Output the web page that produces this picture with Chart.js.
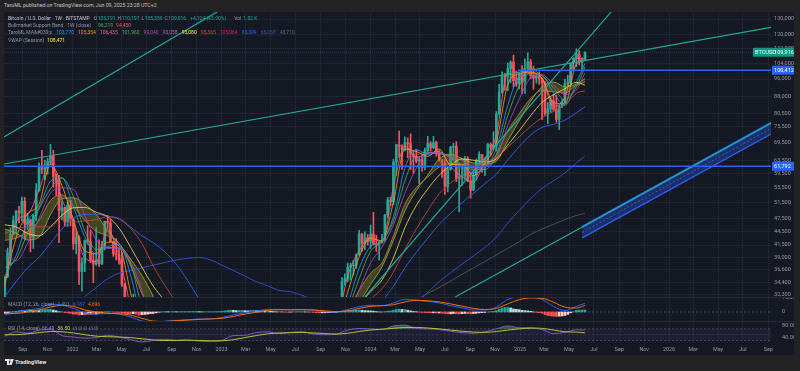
<!DOCTYPE html>
<html>
<head>
<meta charset="utf-8">
<title>Bitcoin / U.S. Dollar 1W</title>
<script src="https://cdn.jsdelivr.net/npm/chart.js"></script>
<style>
  body { margin: 0; width: 800px; height: 371px; background: #232323; position: relative; overflow: hidden; font-family: Roboto, 'Noto Sans', sans-serif; }
  #panel { position: absolute; left: 4px; top: 12px; width: 790px; height: 343px; background: #151924; }
  #panel canvas { position: absolute; left: 0; }
  .txt { position: absolute; white-space: nowrap; line-height: 1; }
  .row { position: absolute; left: 8px; white-space: nowrap; line-height: 1; font-size: 5px; }
  .sep { position: absolute; left: 0; width: 790px; height: 1px; background: #262a35; }
</style>
</head>
<body>
<div class="txt" style="left:4px;top:3px;font-size:5.2px;color:#c3c6ce">TaroML published on TradingView.com, Jun 09, 2025 23:28 UTC+2</div>
<div id="panel">
  <canvas id="main" width="790" height="285" style="top:0"></canvas>
  <canvas id="macd" width="790" height="24" style="top:285px"></canvas>
  <canvas id="rsi" width="790" height="34" style="top:309px"></canvas>
  <div class="sep" style="top:285px"></div>
  <div class="sep" style="top:309px"></div>
</div>
<div id="legend"></div>
<svg style="position:absolute;left:5px;top:359px" width="9" height="6" viewBox="0 0 9 6"><path fill="#e6e6e6" d="M0 0h4v6H2V2H0z M6.2 0h2.6L6.6 6H4z"/><circle cx="5" cy="1" r="0.9" fill="#e6e6e6"/></svg>
<div class="txt" style="left:15px;top:359.5px;font-size:5.6px;color:#e6e6e6;font-weight:bold">TradingView</div>

<script>
// weekly candles, thousands of USD, first week starts 2021-07-19
const opens = [
  31.8,35.4,39.9,43.8,47.0,49.3,48.8,51.8,46.1,47.2, 43.2,48.2,54.7,61.5,60.9,61.3,63.3,65.0,58.7,57.3,
  49.4,50.1,46.7,50.8,47.3,41.8,43.1,36.3,37.9,42.4, 42.2,38.4,37.7,38.4,37.8,41.3,46.8,46.4,42.2,39.7,
  39.5,38.5,34.0,31.3,30.3,29.4,29.9,26.6,20.5,21.0, 19.3,20.8,20.8,22.6,23.3,23.2,24.3,21.5,20.0,19.8,
  21.8,19.4,18.8,19.4,19.4,19.2,19.6,20.6,21.0,16.3, 16.3,16.5,17.1,17.1,16.8,16.8,16.6,17.1,20.9,22.7,
  23.7,23.0,21.8,24.6,23.6,22.4,22.1,27.9,27.5,28.5, 28.3,30.3,27.6,29.2,28.7,26.9,26.8,28.1,27.1,25.9,
  26.3,30.5,30.6,30.3,30.3,30.0,29.3,29.0,29.4,26.1, 26.0,25.8,26.0,26.5,26.3,27.9,27.9,26.9,30.0,34.5,
  35.0,37.1,37.4,37.5,39.5,43.9,41.9,43.0,42.3,43.9, 41.7,41.6,42.0,42.6,48.3,52.1,51.7,63.1,68.9,68.4,
  67.2,69.6,69.4,65.7,64.9,63.4,63.9,61.5,66.9,69.3, 67.8,69.6,66.2,63.9,62.7,55.9,60.8,68.1,68.3,58.1,
  58.7,58.9,64.2,57.3,54.8,59.1,63.6,65.6,62.8,62.8, 69.0,68.0,68.8,80.4,89.8,97.8,97.3,101.2,104.5,95.2,
  93.7,98.3,94.5,101.3,104.7,97.7,96.5,97.5,96.3,94.2, 80.7,82.6,86.1,82.4,78.3,83.8,85.1,93.7,94.3,104.0,
  106.5,109.0,104.6,105.791
]
const highs = [
  35.4,40.9,45.3,48.1,49.4,50.5,52.9,52.8,48.8,47.3, 48.4,56.6,62.9,67.0,63.7,64.3,69.0,67.0,59.4,59.0,
  51.9,50.2,51.9,52.0,47.5,44.4,43.5,38.9,42.6,45.8, 44.7,39.8,45.4,42.6,42.3,46.8,48.2,47.2,42.4,42.9,
  40.8,40.0,34.2,31.4,30.6,32.4,31.7,26.8,22.0,21.5, 22.5,21.6,24.3,24.7,23.6,25.2,25.1,21.9,20.6,21.9,
  22.7,19.9,20.4,20.5,19.9,19.7,21.0,21.5,21.5,17.2, 16.8,17.4,17.4,18.4,17.0,16.9,17.2,21.4,23.4,23.9,
  24.2,23.4,25.2,25.1,23.9,22.6,28.4,28.9,29.2,28.9, 31.0,30.5,30.0,29.8,28.9,27.6,28.4,28.4,27.4,26.8,
  31.4,31.3,31.5,31.8,30.4,30.0,29.9,30.2,29.7,26.8, 28.1,26.4,26.9,27.5,28.0,28.6,27.9,30.4,35.2,35.9,
  37.9,37.9,38.4,39.7,44.7,44.0,44.4,43.8,45.9,49.0, 43.6,42.2,43.8,48.5,52.8,52.9,64.0,69.1,73.8,68.9,
  71.7,71.3,72.8,66.9,67.2,64.7,65.5,67.7,71.9,70.0, 71.9,70.2,66.9,64.0,63.9,61.3,68.3,69.4,70.0,62.7,
  61.8,65.0,64.9,59.8,60.6,64.1,66.5,65.6,64.4,69.4, 69.5,73.6,81.5,93.5,99.6,98.8,104.1,105.2,108.4,99.9,
  99.0,102.7,106.3,109.6,106.0,102.5,98.8,99.5,96.5,95.0, 85.3,87.5,88.8,88.5,84.0,86.5,95.8,97.9,104.1,107.0,
  111.9,110.7,106.8,110.107
]
const lows = [
  29.3,35.2,37.6,43.8,43.9,46.4,46.9,42.8,44.8,40.1, 40.8,46.9,54.4,59.5,57.8,59.4,62.3,55.6,53.3,42.0,
  47.1,45.6,45.6,45.7,40.6,39.7,34.0,32.9,36.3,41.7, 38.0,34.3,37.5,37.2,37.6,40.5,45.1,42.1,39.2,38.5,
  37.7,33.7,26.7,28.7,28.0,29.3,26.6,17.6,19.6,18.7, 19.0,18.9,20.7,20.7,22.4,22.6,20.8,19.8,19.5,18.6,
  19.3,18.2,18.5,19.1,18.2,18.9,19.2,20.1,15.6,16.2, 15.5,16.1,16.9,16.3,16.4,16.4,16.6,17.1,20.4,22.3,
  22.6,21.4,21.5,22.8,21.9,19.6,21.9,26.6,26.5,27.2, 28.2,27.1,26.9,27.7,25.8,26.4,25.9,26.6,25.4,24.8,
  26.2,29.5,29.7,29.9,29.5,28.9,28.6,28.7,25.4,25.8, 25.4,25.4,24.9,26.1,26.0,27.2,26.5,26.9,29.9,33.9,
  34.5,34.8,35.7,36.9,39.5,40.2,40.5,41.5,40.8,41.5, 40.2,38.5,41.9,42.3,47.7,50.6,50.9,59.0,64.6,60.8,
  66.8,64.5,60.8,59.6,62.8,56.5,60.2,60.7,66.3,66.7, 67.6,65.0,63.4,58.4,53.6,54.3,60.6,63.6,57.2,49.1,
  56.1,57.8,57.2,52.6,54.6,57.6,62.7,59.9,58.9,62.4, 65.1,67.5,66.8,80.2,89.4,90.8,90.5,94.2,92.2,92.5,
  91.3,89.3,89.3,99.5,96.2,91.2,94.1,93.4,78.2,80.0, 76.6,81.2,81.6,77.2,74.4,83.1,85.1,92.9,93.4,100.7,
  102.1,103.1,100.4,105.389
]
const closes = [
  35.4,39.9,43.8,47.0,49.3,48.8,51.8,46.1,47.2,43.2, 48.2,54.7,61.5,60.9,61.3,63.3,65.0,58.7,57.3,49.4,
  50.1,46.7,50.8,47.3,41.8,43.1,36.3,37.9,42.4,42.2, 38.4,37.7,38.4,37.8,41.3,46.8,46.4,42.2,39.7,39.5,
  38.5,34.0,31.3,30.3,29.4,29.9,26.6,20.5,21.0,19.3, 20.8,20.8,22.6,23.3,23.2,24.3,21.5,20.0,19.8,21.8,
  19.4,18.8,19.4,19.4,19.2,19.6,20.6,21.0,16.3,16.3, 16.5,17.1,17.1,16.8,16.8,16.6,17.1,20.9,22.7,23.7,
  23.0,21.8,24.6,23.6,22.4,22.1,27.9,27.5,28.5,28.3, 30.3,27.6,29.2,28.7,26.9,26.8,28.1,27.1,25.9,26.3,
  30.5,30.6,30.3,30.3,30.0,29.3,29.0,29.4,26.1,26.0, 25.8,26.0,26.5,26.3,27.9,27.9,26.9,30.0,34.5,35.0,
  37.1,37.4,37.5,39.5,43.9,41.9,43.0,42.3,43.9,41.7, 41.6,42.0,42.6,48.3,52.1,51.7,63.1,68.9,68.4,67.2,
  69.6,69.4,65.7,64.9,63.4,63.9,61.5,66.9,69.3,67.8, 69.6,66.2,63.9,62.7,55.9,60.8,68.1,68.3,58.1,58.7,
  58.9,64.2,57.3,54.8,59.1,63.6,65.6,62.8,62.8,69.0, 68.0,68.8,80.4,89.8,97.8,97.3,101.2,104.5,95.2,93.7,
  98.3,94.5,101.3,104.7,97.7,96.5,97.5,96.3,94.2,80.7, 82.6,86.1,82.4,78.3,83.8,85.1,93.7,94.3,104.0,106.5,
  109.0,104.6,105.8,109.916
]

// moving averages, sampled every 4 weeks (weeks 0,4,...,200) plus the last week 203
const ma3 = [33.6,46.7,48.4,54.8,63.2,52.3,46.6,38.9,38.2,44.8,39.2,30.3,22.7,21.4,23.0,20.3,19.3,19.3,16.9,16.8,23.1,23.5,28.0,29.0,27.3,27.6,30.2,28.2,26.1,27.6,35.5,40.3,43.1,42.1,55.6,68.4,64.7,65.9,66.6,61.6,58.6,57.1,63.7,72.4,98.8,95.7,101.2,96.0,83.7,87.5,106.5,106.4]
const ma5 = [34.2,43.1,48.6,51.0,62.4,56.1,47.3,40.3,39.8,42.1,41.3,32.7,25.5,20.9,23.0,20.5,19.2,19.3,16.7,16.9,21.5,23.1,25.7,28.8,27.9,27.6,30.3,28.8,26.1,27.1,32.7,39.1,43.0,42.4,51.6,67.4,66.6,65.0,67.4,62.3,62.4,58.9,62.8,69.8,93.3,98.6,99.3,96.4,85.2,84.7,103.5,105.4]
const ma8 = [35.5,39.4,46.8,50.2,57.3,58.3,50.3,43.3,39.6,41.2,41.6,35.7,27.9,22.7,22.0,21.7,19.8,19.3,18.1,16.8,19.7,22.9,24.8,27.7,28.2,27.5,28.9,29.4,27.3,26.7,30.7,36.9,41.2,42.4,47.9,61.2,67.2,65.6,66.2,64.4,61.5,59.9,61.3,67.6,84.0,97.2,98.7,97.8,89.5,84.1,94.3,103.8]
const ma10 = [37.0,38.6,44.1,49.8,55.1,58.2,53.1,44.6,40.6,41.0,40.9,37.8,30.1,24.1,21.8,21.7,20.4,19.6,18.5,17.0,19.2,21.7,24.5,26.7,28.2,27.7,28.6,29.2,27.9,26.9,29.8,35.0,40.2,42.3,46.9,57.4,65.2,66.2,65.8,65.1,62.2,60.8,60.8,65.5,79.8,92.7,98.8,97.5,91.9,86.3,92.3,102.0]
const ma13 = [40.5,38.3,41.9,47.5,53.9,55.4,55.0,48.2,42.6,40.8,40.9,38.1,33.0,26.5,23.3,21.4,21.0,19.8,18.9,17.3,18.5,20.6,23.5,25.9,27.2,28.0,28.5,28.9,28.5,27.5,28.9,33.1,37.9,41.1,46.0,53.9,61.2,66.3,66.3,64.6,63.7,60.8,61.7,64.3,75.9,86.7,96.6,98.1,93.3,88.8,90.8,99.0]
const sma20 = [45.0,44.1,42.6,43.2,48.4,52.4,52.7,51.0,48.5,44.6,41.8,38.7,35.6,32.0,28.0,24.0,21.6,20.6,19.8,18.5,19.0,19.7,21.2,23.6,25.7,26.7,28.1,28.5,28.0,27.9,29.3,31.1,34.0,37.2,42.5,49.3,54.6,59.1,64.1,65.7,64.2,62.8,62.5,63.4,70.3,77.7,85.8,92.3,94.6,92.3,93.5,96.2]
const ema21 = [42.5,43.0,44.5,47.0,52.0,53.5,50.5,47.0,44.5,43.5,41.8,37.5,32.5,29.0,27.0,24.5,22.5,21.0,19.5,18.8,19.8,20.8,22.5,24.3,25.6,26.5,27.8,28.0,27.6,27.7,29.8,33.0,36.0,38.0,43.5,51.0,55.5,58.5,61.5,62.5,62.0,61.3,62.0,65.5,74.0,80.5,87.0,90.5,90.0,89.5,93.0,94.5]
const ma26 = [46.0,45.5,44.0,43.5,45.5,48.2,50.1,50.2,49.0,47.9,45.2,41.1,37.1,33.7,31.2,27.9,24.5,22.0,20.3,19.4,19.5,19.7,20.7,22.2,23.7,25.3,26.9,27.8,28.0,27.9,28.8,30.7,32.8,34.8,38.9,45.3,50.7,55.1,59.1,62.1,64.1,63.7,63.2,64.1,68.8,73.9,79.8,85.3,88.7,91.4,94.4,93.1]
const ma35 = [44.0,45.0,45.5,45.5,45.5,47.7,46.6,46.9,47.2,47.9,47.3,45.2,41.8,37.3,33.9,31.1,28.8,26.4,23.5,21.1,20.3,20.2,20.8,21.5,22.4,23.3,24.7,26.0,26.9,27.4,28.6,30.0,31.6,33.3,36.2,40.6,45.0,49.4,53.8,56.8,59.1,61.0,63.1,64.7,68.0,71.7,75.6,79.0,81.5,84.3,89.3,90.5]
const ma50 = [32.0,34.5,37.0,39.0,41.9,45.0,47.5,48.5,48.5,48.0,47.5,45.5,43.5,42.0,40.1,37.7,34.7,31.6,28.9,26.8,25.4,24.0,22.8,22.2,22.2,22.6,23.2,23.8,24.3,24.9,26.2,28.0,29.9,31.4,33.7,37.0,40.0,43.0,46.1,48.7,51.4,53.9,56.6,59.4,63.8,68.2,72.4,75.2,76.4,78.0,81.0,83.4]
const ma100 = [22.0,24.5,26.0,27.0,28.0,29.0,30.5,32.0,33.5,35.0,36.0,36.5,37.0,37.5,38.0,38.5,38.8,39.0,38.5,37.5,36.5,35.5,34.5,33.8,33.0,32.8,32.2,31.4,30.3,28.9,28.1,27.9,28.0,28.1,28.5,29.7,31.0,32.7,34.5,36.1,37.7,39.3,41.0,43.2,46.4,49.4,52.5,55.3,57.4,59.8,62.8,65.1]
const ma200 = [11.0,12.0,13.0,14.0,15.0,16.0,17.0,17.8,18.5,19.3,20.0,20.8,21.5,22.0,22.4,22.7,23.0,23.3,23.6,23.8,24.0,24.5,25.0,25.5,26.0,26.3,26.6,26.9,27.2,27.5,27.8,28.2,28.6,29.0,29.6,30.5,31.5,32.5,33.5,34.6,35.8,37.0,38.2,39.5,40.8,42.2,43.8,45.0,46.1,47.2,48.2,48.7]

// MACD (12, 26) in thousands: weekly histogram, lines sampled like the averages
const macdHist = [
  -1.0,-0.6,-0.1,0.3, 0.5,0.9,1.2,1.0, 1.5,1.1,0.8,1.2, 1.0,1.6,1.7,1.8, 2.0,1.4,0.9,0.2,
  0.2,-0.4,-0.6,-1.0, -1.5,-1.6,-2.1,-1.9, -2.0,-1.5,-1.5,-1.6, -1.5,-1.0,-0.5,0.1, 0.0,0.1,-0.1,-0.2,
  -0.3,-0.7,-1.1,-1.2, -1.3,-1.2,-1.5,-2.2, -2.0,-1.8,-1.5,-1.2, -1.0,-0.6,-0.2,0.2, 0.3,0.2,0.2,0.3,
  0.2,0.2,0.3,0.3, 0.3,0.3,0.4,0.4, 0.3,0.1,0.1,0.2, 0.2,0.2,0.3,0.3, 0.5,0.8,1.1,1.3,
  1.2,1.0,1.1,1.1, 1.0,0.8,1.1,1.1, 1.0,0.9,0.9,0.6, 0.6,0.5,0.3,0.2, 0.2,0.1,-0.1,-0.2,
  -0.1,0.1,0.2,0.2, 0.2,0.1,0.0,-0.1, -0.3,-0.5,-0.6,-0.6, -0.6,-0.5,-0.4,-0.3, -0.3,0.0,0.5,0.8,
  1.0,1.1,1.1,1.2, 1.3,1.2,1.0,0.9, 0.8,0.6,0.3,0.1, 0.0,0.3,0.6,0.7, 1.3,1.8,1.9,1.8,
  1.8,1.3,0.8,0.4, 0.2,-0.1,-0.3,-0.4, -0.5,-0.6,-0.6,-0.7, -0.7,-0.9,-1.2,-1.3, -1.3,-1.1,-1.3,-1.4,
  -1.2,-1.0,-1.2,-1.3, -1.1,-0.9,-0.6,-0.5, -0.3,0.0,0.3,0.5, 1.0,1.9,2.8,3.2, 3.2,2.9,2.2,1.9,
  1.7,1.2,1.0,0.8, 0.5,0.1,-0.2,-0.5, -0.8,-1.8,-2.5,-2.8, -3.0,-3.2,-3.0,-2.8, -2.5,-1.7,-0.6,0.2,
  1.2,1.3,1.4,1.491
]
const macdLine = [-2.0,-0.5,1.5,2.5,5.5,5.0,2.5,-0.5,-1.5,-1.0,-1.5,-3.5,-6.5,-7.5,-6.5,-6.0,-5.5,-5.0,-4.8,-4.0,-2.0,-0.5,0.8,1.8,1.8,1.5,1.8,1.2,0.2,0.0,1.8,3.8,4.8,4.5,6.5,9.0,8.5,7.5,6.5,4.5,3.0,1.5,1.5,3.5,9.0,10.5,10.5,9.0,4.0,1.0,4.0,6.187]
const signalLine = [-1.0,-1.0,0.0,1.5,3.5,4.8,4.0,1.5,0.0,-1.0,-1.2,-2.2,-4.5,-6.5,-6.8,-6.2,-5.8,-5.3,-5.0,-4.5,-3.2,-1.5,-0.2,1.2,1.6,1.6,1.6,1.5,0.8,0.3,0.8,2.5,4.0,4.5,5.2,7.2,8.3,8.0,7.2,5.8,4.2,2.6,1.8,2.5,5.8,8.8,10.0,9.8,7.0,3.5,2.8,4.696]

// RSI (14) and its moving average, same sampling
const rsi = [45,60,55,66,68,47,42,38,40,48,42,33,25,30,34,31,32,28,27,30,47,48,57,60,54,58,60,52,50,52,66,71,70,68,80,83,72,70,68,62,57,55,60,70,80,74,73,68,54,58,67,66.4]
const rsiMa = [50,50,53,57,61,60,56,50,45,43,42,40,36,32,30,30,31,30,29,29,33,40,47,53,56,57,58,56,54,52,55,61,66,69,72,75,75,73,70,66,62,59,58,61,66,70,73,72,66,60,59,56.5]

// drawings
const trendDates = [['2021-07-17', '2026-09-12'], ['2021-07-17', '2022-12-21'], ['2023-12-18', '2025-08-12'], ['2024-07-26', '2026-09-08']]
const trendPrices = [[62.5, 124.85], [71.6, 134.7], [31.93, 134.7], [31.93, 76.88]]
const channelDates = ['2025-06-02', '2026-09-08']
const channelTop = [45.47, 76.88]
const channelMid = [44.23, 74.78]
const channelBottom = [43.02, 72.73]
const levels = [100.412, 61.792]
const levelStarts = ['2024-12-27', '2021-07-17']
const lastPrice = 109.916

const priceTicks = [32.3, 34.4, 36.6, 39.0, 41.5, 44.5, 47.5, 51.5, 55.5, 59.5, 63.5, 69.5, 75.5, 80.5, 88, 96, 104, 112, 120, 130]
const tickDates = ['2021-09-01', '2021-11-01', '2022-01-01', '2022-03-01', '2022-05-01', '2022-07-01', '2022-09-01', '2022-11-01',
  '2023-01-01', '2023-03-01', '2023-05-01', '2023-07-01', '2023-09-01', '2023-11-01', '2024-01-01', '2024-03-01', '2024-05-01',
  '2024-07-01', '2024-09-01', '2024-11-01', '2025-01-01', '2025-03-01', '2025-05-01', '2025-07-01', '2025-09-01', '2025-11-01',
  '2026-01-01', '2026-03-01', '2026-05-01', '2026-07-01', '2026-09-01']
const tickLabels = ['Sep', 'Nov', '2022', 'Mar', 'May', 'Jul', 'Sep', 'Nov', '2023', 'Mar', 'May', 'Jul', 'Sep', 'Nov', '2024', 'Mar', 'May',
  'Jul', 'Sep', 'Nov', '2025', 'Mar', 'May', 'Jul', 'Sep', 'Nov', '2026', 'Mar', 'May', 'Jul', 'Sep']

const GRAY = '#9598a1'
const GREEN = '#22ab94'
const RED = '#f7525f'
// legend rows: top, then [text, colour, gap before]
const legendRows = [
  [15.5, [['Bitcoin / U.S. Dollar · 1W · BITSTAMP', '#c3c6ce', 0], ['O', GRAY, 4], ['105,791', GREEN, 0.5], ['H', GRAY, 2], ['110,107', GREEN, 0.5],
    ['L', GRAY, 2], ['105,389', GREEN, 0.5], ['C', GRAY, 2], ['109,916', GREEN, 0.5], ['+4,124 (+3.90%)', GREEN, 4], ['Vol', GRAY, 8], ['1.02 K', GREEN, 2]]],
  [22.5, [['Bullmarket Support Band · 1W (close)', GRAY, 0], ['96,219', '#4caf50', 7], ['94,450', RED, 3]]],
  [30, [['TaroML MA&#039;s', GRAY, 0], ['103,770', '#2196f3', 4], ['105,354', '#ff9800', 4], ['106,435', '#f06292', 4], ['101,960', '#4caf50', 4],
    ['99,040', '#ab47bc', 4], ['93,058', '#ba68c8', 4], ['93,080', '#ffeb3b', 4], ['95,365', '#f44336', 4], ['105,064', '#e91e63', 4],
    ['83,399', '#2962ff', 4], ['65,058', '#3355cc', 4], ['48,710', '#5d6270', 4]]],
  [37.5, [['VWAP (Session)', GRAY, 0], ['108,471', '#ffeb3b', 3]]],
  [301.5, [['MACD (12, 26, close)', GRAY, 0], ['1,491', '#26a69a', 3], ['6,187', '#2962ff', 3], ['4,696', '#ff6d00', 3]]],
  [325.5, [['RSI (14, close)', GRAY, 0], ['66.40', '#9c7be0', 2], ['56.50', '#c6d43a', 3], ['∅  ∅  ∅  ∅  ∅', GRAY, 3]]]
]

const legendBox = document.getElementById('legend')
legendRows.forEach(([top, items]) => {
  const row = document.createElement('div')
  row.className = 'row'
  row.style.top = top + 'px'
  items.forEach(([text, color, gap]) => {
    const el = document.createElement('span')
    el.style.cssText = `color:${color};margin-left:${gap}px`
    el.textContent = text
    row.appendChild(el)
  })
  legendBox.appendChild(row)
})

Chart.defaults.font.family = 'Roboto'
const DAY0 = Date.UTC(2021, 6, 19)
const dayOf = s => (Date.parse(s) - DAY0) / 86400000
const weekX = i => i * 7
const X_MIN = -1.8
const X_MAX = 1876.7
const GRID = 'rgba(44,48,60,0.5)'
const AXIS_TEXT = '#9598a1'
const maWeeks = []
for (let w = 0; w <= 200; w += 4) maWeeks.push(w)
maWeeks.push(closes.length - 1)

function xAxis(withLabels) {
  return {
    type: 'linear', min: X_MIN, max: X_MAX, offset: false,
    grid: { color: GRID, drawTicks: false, offset: false },
    border: { display: false },
    ticks: { display: withLabels, autoSkip: false, maxRotation: 0, padding: 3, color: AXIS_TEXT, font: { size: 5.4 }, callback: (v, i) => tickLabels[i] },
    afterBuildTicks: s => { s.ticks = tickDates.map(d => ({ value: dayOf(d) })) },
    afterFit: s => { s.paddingLeft = 0; s.paddingRight = 0; s.height = withLabels ? 12 : 0 }
  }
}

function yAxis(opts, tickValues, fmt) {
  return Object.assign({
    position: 'right',
    border: { display: false },
    grid: { color: GRID, drawTicks: false },
    ticks: { autoSkip: false, padding: 3, color: AXIS_TEXT, font: { size: 5.6 }, callback: fmt },
    afterBuildTicks: s => { s.ticks = tickValues.map(v => ({ value: v })) },
    afterFit: s => { s.width = 23; s.paddingTop = 0; s.paddingBottom = 0 }
  }, opts)
}

const baseOptions = {
  responsive: false, animation: false, devicePixelRatio: 1, events: [],
  layout: { padding: 0 },
  plugins: { legend: { display: false }, tooltip: { enabled: false } }
}

const sampled = vals => vals.map((v, j) => ({ x: weekX(maWeeks[j]), y: v }))
const maLine = (vals, color, extra) => Object.assign({
  type: 'line', data: sampled(vals), borderColor: color, borderWidth: 1, pointRadius: 0,
  cubicInterpolationMode: 'monotone', fill: false, order: 30
}, extra)
const segment = (dates, prices, color, extra) => Object.assign({
  type: 'line', data: dates.map((d, j) => ({ x: dayOf(d), y: prices[j] })), borderColor: color,
  borderWidth: 1.2, pointRadius: 0, tension: 0, fill: false, order: 10
}, extra)

const candleColors = closes.map((c, i) => c >= opens[i] ? GREEN : RED)
const fmtPrice = v => Math.round(v * 1000).toLocaleString('en-US')

const tagPlugin = {
  id: 'tags',
  afterDraw(chart) {
    const { ctx } = chart
    const y = chart.scales.y
    const tag = (value, bg, label) => {
      const py = y.getPixelForValue(value)
      ctx.save()
      ctx.font = '5.6px Roboto'
      ctx.textBaseline = 'middle'
      ctx.fillStyle = bg
      ctx.fillRect(y.left + 1, py - 4.5, 22, 9)
      if (label) ctx.fillRect(y.left - 18, py - 4.5, 19, 9)
      ctx.fillStyle = '#ffffff'
      ctx.fillText(fmtPrice(value), y.left + 3, py + 0.5)
      if (label) ctx.fillText(label, y.left - 16, py + 0.5)
      ctx.restore()
    }
    tag(lastPrice, '#089981', 'BTCUSD')
    levels.forEach(v => tag(v, '#2962ff'))
  }
}

const mainDatasets = [
  { data: closes.map((c, i) => ({ x: weekX(i), y: [lows[i], highs[i]] })), backgroundColor: candleColors, barThickness: 1, grouped: false, order: 60 },
  { data: closes.map((c, i) => ({ x: weekX(i), y: [opens[i], c] })), backgroundColor: candleColors, barThickness: 2, grouped: false, order: 59 },
  maLine(sma20, 'rgba(150,160,60,0.9)', { fill: '+1', backgroundColor: 'rgba(130,130,30,0.42)', order: 40 }),
  maLine(ema21, 'rgba(190,120,70,0.85)', { order: 39 }),
  maLine(ma200, '#4b505c', { order: 36 }),
  maLine(ma100, '#2f4fc0', { order: 35 }),
  maLine(ma50, '#2e5be0', { order: 35 }),
  maLine(ma35, 'rgba(200,70,60,0.85)'),
  maLine(ma26, 'rgba(240,210,80,0.85)'),
  maLine(ma13, 'rgba(171,71,188,0.85)'),
  maLine(ma10, 'rgba(76,175,80,0.85)'),
  maLine(ma8, 'rgba(33,150,243,0.85)'),
  maLine(ma5, 'rgba(255,152,0,0.85)'),
  maLine(ma3, 'rgba(240,98,146,0.85)'),
  ...trendDates.map((d, k) => segment(d, trendPrices[k], GREEN)),
  segment(channelDates, channelTop, '#2962ff', { borderWidth: 2.2, order: 12 }),
  segment(channelDates, channelBottom, '#2962ff', { borderWidth: 1.4, fill: '-1', backgroundColor: 'rgba(41,98,255,0.3)', order: 12 }),
  segment(channelDates, channelMid, 'rgba(80,130,255,0.8)', { borderWidth: 0.8, borderDash: [2, 2], order: 12 }),
  ...levels.map((v, k) => segment([levelStarts[k], '2026-09-12'], [v, v], '#2962ff', { borderWidth: 1.5, order: 8 })),
  segment(['2021-07-17', '2026-09-12'], [lastPrice, lastPrice], 'rgba(34,171,148,0.45)', { borderWidth: 0.8, borderDash: [1, 1], order: 7 })
]

new Chart(document.getElementById('main'), {
  type: 'bar',
  data: { datasets: mainDatasets },
  options: Object.assign({}, baseOptions, {
    scales: {
      x: xAxis(false),
      y: yAxis({ type: 'logarithmic', min: 31.93, max: 134.68 }, priceTicks, v => fmtPrice(v))
    }
  }),
  plugins: [tagPlugin]
})

const histColors = macdHist.map((v, i) => {
  const prev = i ? macdHist[i - 1] : v
  if (v >= 0) return v >= prev ? '#26a69a' : '#b2dfdb'
  return v < prev ? '#ff5252' : '#ffcdd2'
})

new Chart(document.getElementById('macd'), {
  type: 'bar',
  data: {
    datasets: [
      segment(['2021-07-17', '2026-09-12'], [0, 0], 'rgba(120,123,134,0.6)', { borderWidth: 0.8, borderDash: [2, 2], order: 20 }),
      { data: macdHist.map((v, i) => ({ x: weekX(i), y: v })), backgroundColor: histColors, barThickness: 2, grouped: false, order: 15 },
      maLine(macdLine, '#2962ff', { order: 2 }),
      maLine(signalLine, '#ff6d00', { order: 1 })
    ]
  },
  options: Object.assign({}, baseOptions, {
    scales: {
      x: xAxis(false),
      y: yAxis({ type: 'linear', min: -6.43, max: 10.71, grid: { display: false } }, [0, 10], v => v === 0 ? '0' : fmtPrice(v))
    }
  })
})

new Chart(document.getElementById('rsi'), {
  type: 'line',
  data: {
    datasets: [
      segment(['2021-07-17', '2026-09-12'], [70, 70], 'rgba(120,123,134,0.6)', { borderWidth: 0.8, borderDash: [2, 2], order: 20 }),
      segment(['2021-07-17', '2026-09-12'], [30, 30], 'rgba(120,123,134,0.6)', { borderWidth: 0.8, borderDash: [2, 2], fill: '-1', backgroundColor: 'rgba(126,87,194,0.1)', order: 20 }),
      segment(['2021-07-17', '2026-09-12'], [50, 50], 'rgba(120,123,134,0.35)', { borderWidth: 0.8, borderDash: [2, 2], order: 20 }),
      maLine(rsi, '#7e57c2', { order: 2, fill: { target: { value: 70 }, above: 'rgba(76,175,80,0.45)', below: 'rgba(0,0,0,0)' } }),
      maLine(rsiMa, '#b5c334', { order: 1 })
    ]
  },
  options: Object.assign({}, baseOptions, {
    scales: {
      x: xAxis(true),
      y: yAxis({ type: 'linear', min: 21.4, max: 97.2, grid: { display: false } }, [40, 80], v => v.toFixed(2))
    }
  })
})
</script>
</body>
</html>
